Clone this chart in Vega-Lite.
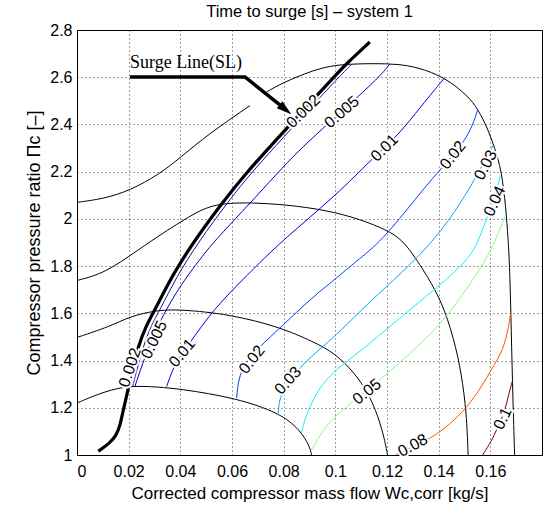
{
  "$schema": "https://vega.github.io/schema/vega-lite/v6.json",
  "width": 465,
  "height": 425,
  "autosize": {"type": "none"},
  "padding": {"left": 77, "top": 30, "right": 3, "bottom": 54},
  "background": "white",
  "title": {"text": "Time to surge [s] – system 1", "font": "Liberation Sans", "fontSize": 16.5, "fontWeight": "normal", "color": "black", "baseline": "alphabetic", "offset": -11, "frame": "group"},
  "config": {
    "view": {"stroke": "black", "strokeWidth": 1},
    "axis": {
      "labelFont": "Liberation Sans", "labelFontSize": 16, "labelColor": "black",
      "titleFont": "Liberation Sans", "titleFontSize": 17, "titleFontWeight": "normal", "titleColor": "black",
      "domain": false, "ticks": false,
      "grid": true, "gridColor": "black", "gridDash": [1, 3], "gridOpacity": 0.75, "gridWidth": 1
    }
  },
  "datasets": {
    "lines": [
      {"g": "k", "id": "k1a", "x": 0, "p": 2.07},
      {"g": "k", "id": "k1a", "x": 0.0102, "p": 2.085},
      {"g": "k", "id": "k1a", "x": 0.0205, "p": 2.12},
      {"g": "k", "id": "k1a", "x": 0.032, "p": 2.19},
      {"g": "k", "id": "k1a", "x": 0.04, "p": 2.26},
      {"g": "k", "id": "k1a", "x": 0.051, "p": 2.36},
      {"g": "k", "id": "k1a", "x": 0.067, "p": 2.48},

      {"g": "k", "id": "k1b", "x": 0.0734, "p": 2.538},
      {"g": "k", "id": "k1b", "x": 0.08, "p": 2.578},
      {"g": "k", "id": "k1b", "x": 0.085, "p": 2.6},
      {"g": "k", "id": "k1b", "x": 0.091, "p": 2.627},
      {"g": "k", "id": "k1b", "x": 0.0979, "p": 2.648},
      {"g": "k", "id": "k1b", "x": 0.1056, "p": 2.656},
      {"g": "k", "id": "k1b", "x": 0.115, "p": 2.658},
      {"g": "k", "id": "k1b", "x": 0.124, "p": 2.656},
      {"g": "k", "id": "k1b", "x": 0.132, "p": 2.642},
      {"g": "k", "id": "k1b", "x": 0.1424, "p": 2.6},
      {"g": "k", "id": "k1b", "x": 0.1514, "p": 2.52},
      {"g": "k", "id": "k1b", "x": 0.1552, "p": 2.465},
      {"g": "k", "id": "k1b", "x": 0.1591, "p": 2.38},
      {"g": "k", "id": "k1b", "x": 0.1617, "p": 2.3},
      {"g": "k", "id": "k1b", "x": 0.1643, "p": 2.207},
      {"g": "k", "id": "k1b", "x": 0.166, "p": 2.05},
      {"g": "k", "id": "k1b", "x": 0.1669, "p": 1.911},
      {"g": "k", "id": "k1b", "x": 0.1675, "p": 1.798},
      {"g": "k", "id": "k1b", "x": 0.1681, "p": 1.53},
      {"g": "k", "id": "k1b", "x": 0.1687, "p": 1.248},
      {"g": "k", "id": "k1b", "x": 0.1694, "p": 1.0},

      {"g": "k", "id": "k2", "x": 0, "p": 1.739},
      {"g": "k", "id": "k2", "x": 0.0108, "p": 1.77},
      {"g": "k", "id": "k2", "x": 0.0237, "p": 1.869},
      {"g": "k", "id": "k2", "x": 0.034, "p": 1.945},
      {"g": "k", "id": "k2", "x": 0.0398, "p": 1.985},
      {"g": "k", "id": "k2", "x": 0.0465, "p": 2.03},
      {"g": "k", "id": "k2", "x": 0.0527, "p": 2.058},
      {"g": "k", "id": "k2", "x": 0.06, "p": 2.068},
      {"g": "k", "id": "k2", "x": 0.07, "p": 2.068},
      {"g": "k", "id": "k2", "x": 0.085, "p": 2.056},
      {"g": "k", "id": "k2", "x": 0.1005, "p": 2.028},
      {"g": "k", "id": "k2", "x": 0.1127, "p": 1.986},
      {"g": "k", "id": "k2", "x": 0.1217, "p": 1.943},
      {"g": "k", "id": "k2", "x": 0.1269, "p": 1.9},
      {"g": "k", "id": "k2", "x": 0.1333, "p": 1.798},
      {"g": "k", "id": "k2", "x": 0.1411, "p": 1.657},
      {"g": "k", "id": "k2", "x": 0.146, "p": 1.488},
      {"g": "k", "id": "k2", "x": 0.1488, "p": 1.347},
      {"g": "k", "id": "k2", "x": 0.1508, "p": 1.178},
      {"g": "k", "id": "k2", "x": 0.1514, "p": 1.0},

      {"g": "k", "id": "k3", "x": 0, "p": 1.498},
      {"g": "k", "id": "k3", "x": 0.0127, "p": 1.544},
      {"g": "k", "id": "k3", "x": 0.0205, "p": 1.587},
      {"g": "k", "id": "k3", "x": 0.0306, "p": 1.613},
      {"g": "k", "id": "k3", "x": 0.0398, "p": 1.617},
      {"g": "k", "id": "k3", "x": 0.0592, "p": 1.596},
      {"g": "k", "id": "k3", "x": 0.0785, "p": 1.542},
      {"g": "k", "id": "k3", "x": 0.0914, "p": 1.48},
      {"g": "k", "id": "k3", "x": 0.0998, "p": 1.432},
      {"g": "k", "id": "k3", "x": 0.1075, "p": 1.347},
      {"g": "k", "id": "k3", "x": 0.1127, "p": 1.263},
      {"g": "k", "id": "k3", "x": 0.1166, "p": 1.164},
      {"g": "k", "id": "k3", "x": 0.1191, "p": 1.065},
      {"g": "k", "id": "k3", "x": 0.1202, "p": 1.0},

      {"g": "k", "id": "k4", "x": 0, "p": 1.22},
      {"g": "k", "id": "k4", "x": 0.0089, "p": 1.262},
      {"g": "k", "id": "k4", "x": 0.018, "p": 1.29},
      {"g": "k", "id": "k4", "x": 0.0267, "p": 1.292},
      {"g": "k", "id": "k4", "x": 0.0398, "p": 1.281},
      {"g": "k", "id": "k4", "x": 0.0617, "p": 1.241},
      {"g": "k", "id": "k4", "x": 0.0785, "p": 1.178},
      {"g": "k", "id": "k4", "x": 0.0863, "p": 1.107},
      {"g": "k", "id": "k4", "x": 0.0901, "p": 1.037},
      {"g": "k", "id": "k4", "x": 0.0908, "p": 1.0},

      {"g": "s", "id": "surge", "x": 0.00824, "p": 1.0156},
      {"g": "s", "id": "surge", "x": 0.01277, "p": 1.0512},
      {"g": "s", "id": "surge", "x": 0.01509, "p": 1.082},
      {"g": "s", "id": "surge", "x": 0.01663, "p": 1.1213},
      {"g": "s", "id": "surge", "x": 0.01791, "p": 1.192},
      {"g": "s", "id": "surge", "x": 0.01923, "p": 1.2482},
      {"g": "s", "id": "surge", "x": 0.02128, "p": 1.3611},
      {"g": "s", "id": "surge", "x": 0.02371, "p": 1.4596},
      {"g": "s", "id": "surge", "x": 0.02669, "p": 1.5471},
      {"g": "s", "id": "surge", "x": 0.03017, "p": 1.6148},
      {"g": "s", "id": "surge", "x": 0.03663, "p": 1.7556},
      {"g": "s", "id": "surge", "x": 0.04499, "p": 1.901},
      {"g": "s", "id": "surge", "x": 0.05687, "p": 2.0778},
      {"g": "s", "id": "surge", "x": 0.06565, "p": 2.197},
      {"g": "s", "id": "surge", "x": 0.07853, "p": 2.3518},
      {"g": "s", "id": "surge", "x": 0.08936, "p": 2.4816},
      {"g": "s", "id": "surge", "x": 0.10046, "p": 2.6127},
      {"g": "s", "id": "surge", "x": 0.10433, "p": 2.6579},
      {"g": "s", "id": "surge", "x": 0.11335, "p": 2.7493},

      {"g": "a", "id": "arrow", "x": 0.0205, "p": 2.601},
      {"g": "a", "id": "arrow", "x": 0.065, "p": 2.601},
      {"g": "a", "id": "arrow", "x": 0.0807, "p": 2.4634},

      {"g": "c", "id": "0.002", "x": 0.0215, "p": 1.29},
      {"g": "c", "id": "0.002", "x": 0.02321, "p": 1.3611},
      {"g": "c", "id": "0.002", "x": 0.02565, "p": 1.4596},
      {"g": "c", "id": "0.002", "x": 0.02863, "p": 1.5471},
      {"g": "c", "id": "0.002", "x": 0.03211, "p": 1.6148},
      {"g": "c", "id": "0.002", "x": 0.03857, "p": 1.7556},
      {"g": "c", "id": "0.002", "x": 0.04692, "p": 1.901},
      {"g": "c", "id": "0.002", "x": 0.0588, "p": 2.0778},
      {"g": "c", "id": "0.002", "x": 0.06758, "p": 2.197},
      {"g": "c", "id": "0.002", "x": 0.08046, "p": 2.3518},
      {"g": "c", "id": "0.002", "x": 0.0913, "p": 2.4816},
      {"g": "c", "id": "0.002", "x": 0.1024, "p": 2.6127},
      {"g": "c", "id": "0.002", "x": 0.10638, "p": 2.655},

      {"g": "c", "id": "0.005", "x": 0.0224, "p": 1.29},
      {"g": "c", "id": "0.005", "x": 0.0263, "p": 1.418},
      {"g": "c", "id": "0.005", "x": 0.0321, "p": 1.572},
      {"g": "c", "id": "0.005", "x": 0.0405, "p": 1.728},
      {"g": "c", "id": "0.005", "x": 0.0495, "p": 1.855},
      {"g": "c", "id": "0.005", "x": 0.0527, "p": 1.9},
      {"g": "c", "id": "0.005", "x": 0.0656, "p": 2.05},
      {"g": "c", "id": "0.005", "x": 0.0781, "p": 2.2},
      {"g": "c", "id": "0.005", "x": 0.085, "p": 2.28},
      {"g": "c", "id": "0.005", "x": 0.0953, "p": 2.385},
      {"g": "c", "id": "0.005", "x": 0.104, "p": 2.47},
      {"g": "c", "id": "0.005", "x": 0.117, "p": 2.6},
      {"g": "c", "id": "0.005", "x": 0.121, "p": 2.655},

      {"g": "c", "id": "0.01", "x": 0.0347, "p": 1.2905},
      {"g": "c", "id": "0.01", "x": 0.0379, "p": 1.3894},
      {"g": "c", "id": "0.01", "x": 0.0437, "p": 1.474},
      {"g": "c", "id": "0.01", "x": 0.0526, "p": 1.6148},
      {"g": "c", "id": "0.01", "x": 0.0658, "p": 1.761},
      {"g": "c", "id": "0.01", "x": 0.0789, "p": 1.9037},
      {"g": "c", "id": "0.01", "x": 0.1009, "p": 2.1053},
      {"g": "c", "id": "0.01", "x": 0.114, "p": 2.2533},
      {"g": "c", "id": "0.01", "x": 0.1242, "p": 2.3518},
      {"g": "c", "id": "0.01", "x": 0.1333, "p": 2.4786},
      {"g": "c", "id": "0.01", "x": 0.1424, "p": 2.5987},

      {"g": "c", "id": "0.02", "x": 0.0618, "p": 1.241},
      {"g": "c", "id": "0.02", "x": 0.0624, "p": 1.319},
      {"g": "c", "id": "0.02", "x": 0.065, "p": 1.39},
      {"g": "c", "id": "0.02", "x": 0.0708, "p": 1.46},
      {"g": "c", "id": "0.02", "x": 0.0785, "p": 1.537},
      {"g": "c", "id": "0.02", "x": 0.0914, "p": 1.671},
      {"g": "c", "id": "0.02", "x": 0.1, "p": 1.745},
      {"g": "c", "id": "0.02", "x": 0.108, "p": 1.82},
      {"g": "c", "id": "0.02", "x": 0.1179, "p": 1.905},
      {"g": "c", "id": "0.02", "x": 0.132, "p": 2.098},
      {"g": "c", "id": "0.02", "x": 0.139, "p": 2.19},
      {"g": "c", "id": "0.02", "x": 0.1514, "p": 2.338},
      {"g": "c", "id": "0.02", "x": 0.1552, "p": 2.465},

      {"g": "c", "id": "0.03", "x": 0.0779, "p": 1.178},
      {"g": "c", "id": "0.03", "x": 0.0785, "p": 1.263},
      {"g": "c", "id": "0.03", "x": 0.0863, "p": 1.375},
      {"g": "c", "id": "0.03", "x": 0.0953, "p": 1.46},
      {"g": "c", "id": "0.03", "x": 0.1017, "p": 1.522},
      {"g": "c", "id": "0.03", "x": 0.1127, "p": 1.643},
      {"g": "c", "id": "0.03", "x": 0.1256, "p": 1.77},
      {"g": "c", "id": "0.03", "x": 0.1385, "p": 1.911},
      {"g": "c", "id": "0.03", "x": 0.1488, "p": 2.07},
      {"g": "c", "id": "0.03", "x": 0.1545, "p": 2.18},
      {"g": "c", "id": "0.03", "x": 0.1582, "p": 2.25},
      {"g": "c", "id": "0.03", "x": 0.161, "p": 2.31},

      {"g": "c", "id": "0.04", "x": 0.0869, "p": 1.093},
      {"g": "c", "id": "0.04", "x": 0.0888, "p": 1.178},
      {"g": "c", "id": "0.04", "x": 0.094, "p": 1.29},
      {"g": "c", "id": "0.04", "x": 0.1, "p": 1.36},
      {"g": "c", "id": "0.04", "x": 0.1127, "p": 1.465},
      {"g": "c", "id": "0.04", "x": 0.1256, "p": 1.587},
      {"g": "c", "id": "0.04", "x": 0.1385, "p": 1.7},
      {"g": "c", "id": "0.04", "x": 0.1514, "p": 1.826},
      {"g": "c", "id": "0.04", "x": 0.1552, "p": 1.9},
      {"g": "c", "id": "0.04", "x": 0.1585, "p": 2.0},
      {"g": "c", "id": "0.04", "x": 0.1615, "p": 2.09},
      {"g": "c", "id": "0.04", "x": 0.1638, "p": 2.18},

      {"g": "c", "id": "0.05", "x": 0.0908, "p": 1.022},
      {"g": "c", "id": "0.05", "x": 0.0953, "p": 1.107},
      {"g": "c", "id": "0.05", "x": 0.0998, "p": 1.164},
      {"g": "c", "id": "0.05", "x": 0.11, "p": 1.255},
      {"g": "c", "id": "0.05", "x": 0.1204, "p": 1.347},
      {"g": "c", "id": "0.05", "x": 0.132, "p": 1.46},
      {"g": "c", "id": "0.05", "x": 0.1424, "p": 1.573},
      {"g": "c", "id": "0.05", "x": 0.1514, "p": 1.713},
      {"g": "c", "id": "0.05", "x": 0.158, "p": 1.82},
      {"g": "c", "id": "0.05", "x": 0.1625, "p": 1.92},
      {"g": "c", "id": "0.05", "x": 0.1656, "p": 2.01},

      {"g": "c", "id": "0.08", "x": 0.1235, "p": 1.0},
      {"g": "c", "id": "0.08", "x": 0.13, "p": 1.035},
      {"g": "c", "id": "0.08", "x": 0.136, "p": 1.065},
      {"g": "c", "id": "0.08", "x": 0.1436, "p": 1.121},
      {"g": "c", "id": "0.08", "x": 0.1514, "p": 1.206},
      {"g": "c", "id": "0.08", "x": 0.1566, "p": 1.29},
      {"g": "c", "id": "0.08", "x": 0.1617, "p": 1.385},
      {"g": "c", "id": "0.08", "x": 0.1649, "p": 1.446},
      {"g": "c", "id": "0.08", "x": 0.1669, "p": 1.53},
      {"g": "c", "id": "0.08", "x": 0.168, "p": 1.61},

      {"g": "c", "id": "0.1", "x": 0.157, "p": 1.0},
      {"g": "c", "id": "0.1", "x": 0.1605, "p": 1.06},
      {"g": "c", "id": "0.1", "x": 0.1624, "p": 1.107},
      {"g": "c", "id": "0.1", "x": 0.1655, "p": 1.18},
      {"g": "c", "id": "0.1", "x": 0.1669, "p": 1.248},
      {"g": "c", "id": "0.1", "x": 0.1687, "p": 1.32}
    ],
    "labels": [
      {"t": "0.002", "x": 0.0876, "p": 2.455, "rot": -44},
      {"t": "0.005", "x": 0.1025, "p": 2.452, "rot": -41},
      {"t": "0.01", "x": 0.119, "p": 2.3, "rot": -45},
      {"t": "0.02", "x": 0.1455, "p": 2.27, "rot": -52},
      {"t": "0.03", "x": 0.1582, "p": 2.228, "rot": -62},
      {"t": "0.04", "x": 0.1617, "p": 2.075, "rot": -65},
      {"t": "0.002", "x": 0.0205, "p": 1.37, "rot": -72},
      {"t": "0.005", "x": 0.0299, "p": 1.488, "rot": -64},
      {"t": "0.01", "x": 0.0407, "p": 1.432, "rot": -50},
      {"t": "0.02", "x": 0.0677, "p": 1.404, "rot": -52},
      {"t": "0.03", "x": 0.0817, "p": 1.315, "rot": -48},
      {"t": "0.05", "x": 0.1122, "p": 1.268, "rot": -38},
      {"t": "0.08", "x": 0.13, "p": 1.04, "rot": -28},
      {"t": "0.1", "x": 0.1648, "p": 1.154, "rot": -65}
    ],
    "anno": [
      {"t": "Surge Line(SL)", "x": 0.0205, "p": 2.637, "hx": 0.0807, "hp": 2.4634}
    ]
  },
  "encoding": {
    "x": {"field": "x", "type": "quantitative", "scale": {"domain": [0, 0.18], "nice": false, "zero": false},
      "axis": {"values": [0, 0.02, 0.04, 0.06, 0.08, 0.1, 0.12, 0.14, 0.16], "format": "~g", "labelPadding": 8, "titlePadding": 6, "title": "Corrected compressor mass flow Wc,corr [kg/s]"}},
    "y": {"field": "p", "type": "quantitative", "scale": {"domain": [1, 2.8], "nice": false, "zero": false},
      "axis": {"values": [1, 1.2, 1.4, 1.6, 1.8, 2, 2.2, 2.4, 2.6, 2.8], "format": "~g", "labelPadding": 5, "titlePadding": 6, "titleFontSize": 18, "title": "Compressor pressure ratio Πc [–]"}}
  },
  "layer": [
    {
      "data": {"name": "lines"},
      "transform": [{"filter": "datum.g == 'k'"}],
      "mark": {"type": "line", "color": "black", "strokeWidth": 1, "interpolate": "basis", "clip": true},
      "encoding": {"detail": {"field": "id"}, "order": {"value": null}}
    },
    {
      "data": {"name": "lines"},
      "transform": [{"filter": "datum.g == 'c'"}],
      "mark": {"type": "line", "strokeWidth": 1, "interpolate": "basis", "clip": true},
      "encoding": {
        "color": {"field": "id", "type": "nominal", "legend": null,
          "scale": {"domain": ["0.002", "0.005", "0.01", "0.02", "0.03", "0.04", "0.05", "0.08", "0.1"],
                    "range": ["#1010a0", "#0000c0", "#0000dd", "#0040ff", "#00a4ff", "#10f0ff", "#80ff80", "#ff5200", "#800000"]}},
        "order": {"value": null}
      }
    },
    {
      "data": {"name": "lines"},
      "transform": [{"filter": "datum.g == 's'"}],
      "mark": {"type": "line", "color": "black", "strokeWidth": 3.2, "interpolate": "basis", "clip": true},
      "encoding": {"order": {"value": null}}
    },
    {
      "data": {"name": "lines"},
      "transform": [{"filter": "datum.g == 'a'"}],
      "mark": {"type": "line", "color": "black", "strokeWidth": 3.5, "strokeJoin": "miter", "interpolate": "linear"},
      "encoding": {"order": {"value": null}}
    },
    {
      "data": {"name": "anno"},
      "mark": {"type": "point", "shape": "M1,0L-1,-0.6L-1,0.6Z", "filled": true, "color": "black", "opacity": 1, "size": 225, "angle": 39},
      "encoding": {"x": {"field": "hx", "type": "quantitative"}, "y": {"field": "hp", "type": "quantitative"}}
    },
    {
      "data": {"name": "anno"},
      "mark": {"type": "text", "font": "Liberation Serif", "fontSize": 18, "align": "left", "baseline": "alphabetic", "color": "black"},
      "encoding": {"text": {"field": "t"}}
    },
    {
      "data": {"name": "labels"},
      "mark": {"type": "text", "font": "Liberation Sans", "fontSize": 16, "align": "center", "baseline": "middle", "color": "white", "stroke": "white", "strokeWidth": 4},
      "encoding": {"text": {"field": "t"}, "angle": {"field": "rot", "type": "quantitative", "scale": null}}
    },
    {
      "data": {"name": "labels"},
      "mark": {"type": "text", "font": "Liberation Sans", "fontSize": 16, "align": "center", "baseline": "middle", "color": "black"},
      "encoding": {"text": {"field": "t"}, "angle": {"field": "rot", "type": "quantitative", "scale": null}}
    }
  ]
}
